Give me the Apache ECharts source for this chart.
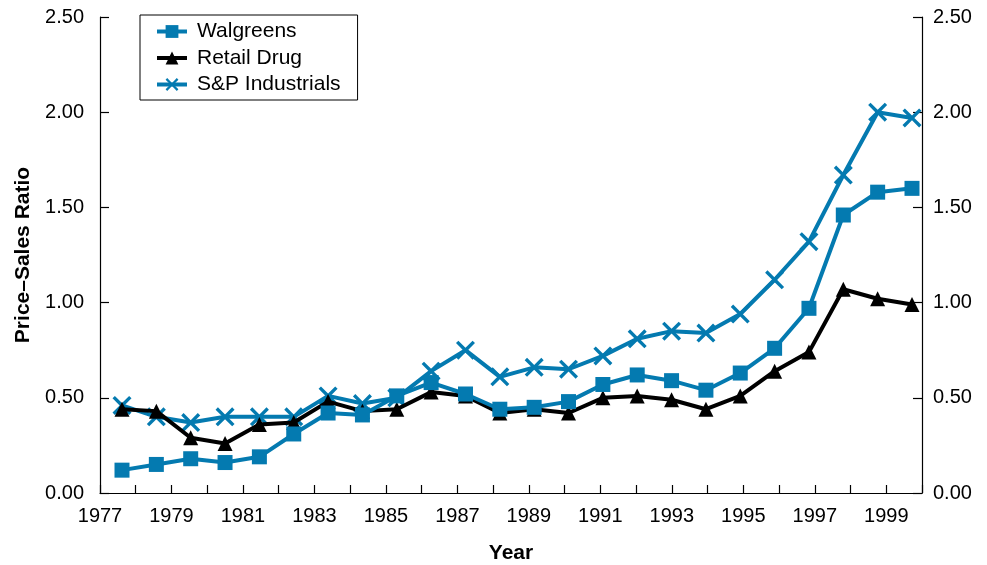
<!DOCTYPE html>
<html>
<head>
<meta charset="utf-8">
<script src="https://cdn.jsdelivr.net/npm/echarts@6/dist/echarts.min.js"></script>
<style>
  html, body { margin: 0; padding: 0; background: #fff; }
  #chart { width: 987px; height: 565px; }
</style>
</head>
<body>
<div id="chart"></div>
<script>
// ---- Data ----
const years = ['1977','1978','1979','1980','1981','1982','1983','1984','1985','1986','1987','1988',
               '1989','1990','1991','1992','1993','1994','1995','1996','1997','1998','1999','2000'];
const walgreens  = [0.12,0.15,0.18,0.16,0.19,0.31,0.42,0.41,0.51,0.58,0.52,0.44,
                    0.45,0.48,0.57,0.62,0.59,0.54,0.63,0.76,0.97,1.46,1.58,1.60];
const retailDrug = [0.44,0.43,0.29,0.26,0.36,0.37,0.48,0.43,0.44,0.53,0.51,0.42,
                    0.44,0.42,0.50,0.51,0.49,0.44,0.51,0.64,0.74,1.07,1.02,0.99];
const spInd      = [0.46,0.40,0.37,0.40,0.40,0.40,0.51,0.47,0.50,0.64,0.75,0.61,
                    0.66,0.65,0.72,0.81,0.85,0.84,0.94,1.12,1.32,1.67,2.00,1.97];
const seriesNames = ['Walgreens', 'Retail Drug', 'S&P Industrials'];
const yTicks = { min: 0, max: 2.5, interval: 0.5 };
const yearAxis = { min: 1977, max: 2000, interval: 1 };

const FONT = "'Liberation Sans', Arial, Helvetica, sans-serif";
const BLUE = '#047AB0';
const BLACK = '#000000';
const XPATH = 'path://M0,2.5 L2.5,0 L10,7.5 L17.5,0 L20,2.5 L12.5,10 L20,17.5 L17.5,20 L10,12.5 L2.5,20 L0,17.5 L7.5,10 Z';

const chart = echarts.init(document.getElementById('chart'), null, { renderer: 'canvas' });

const axisLine = { show: true, lineStyle: { color: '#000', width: 1.2 } };
const labelStyle = { color: '#000', fontFamily: FONT, fontSize: 20 };

const option = {
  backgroundColor: '#fff',
  animation: false,
  textStyle: { fontFamily: FONT },
  grid: [
    { left: 100, right: 65, top: 17, bottom: 72, containLabel: false, outerBoundsMode: 'none' },
    { left: 122, right: 75, top: 17, bottom: 72, containLabel: false, outerBoundsMode: 'none' }
  ],
  legend: {
    orient: 'vertical',
    left: 140, top: 15,
    padding: [6, 17, 5, 15],
    borderColor: '#000', borderWidth: 1,
    itemWidth: 30, itemHeight: 16, itemGap: 5.5,
    lineStyle: { width: 4 },
    textStyle: { color: '#000', fontFamily: FONT, fontSize: 21, lineHeight: 20, padding: [0, 0, 0, 5] },
    data: seriesNames
  },
  xAxis: [
    {
      type: 'value', gridIndex: 0,
      min: yearAxis.min, max: yearAxis.max, interval: yearAxis.interval,
      name: 'Year', nameLocation: 'middle', nameGap: 50,
      nameTextStyle: { color: '#000', fontFamily: FONT, fontSize: 21, fontWeight: 'bold' },
      axisLine: axisLine,
      axisTick: { show: true, inside: true, length: 8, lineStyle: { color: '#000', width: 1.2 } },
      axisLabel: Object.assign({ margin: 13, showMinLabel: true, showMaxLabel: true,
        formatter: v => (v % 2 === 1 ? String(v) : '') }, labelStyle),
      splitLine: { show: false }
    },
    {
      type: 'category', gridIndex: 1, data: years, boundaryGap: false, show: false
    }
  ],
  yAxis: [
    {
      type: 'value', gridIndex: 0, position: 'left',
      min: yTicks.min, max: yTicks.max, interval: yTicks.interval,
      name: 'Price\u2013Sales Ratio', nameLocation: 'middle', nameGap: 66, nameRotate: 90,
      nameTextStyle: { color: '#000', fontFamily: FONT, fontSize: 21, fontWeight: 'bold' },
      axisLine: axisLine,
      axisTick: { show: true, inside: true, length: 9, lineStyle: { color: '#000', width: 1.2 } },
      axisLabel: Object.assign({ margin: 16, formatter: v => v.toFixed(2) }, labelStyle),
      splitLine: { show: false }
    },
    {
      type: 'value', gridIndex: 0, position: 'right',
      min: yTicks.min, max: yTicks.max, interval: yTicks.interval,
      axisLine: axisLine,
      axisTick: { show: true, inside: true, length: 9, lineStyle: { color: '#000', width: 1.2 } },
      axisLabel: Object.assign({ margin: 11, formatter: v => v.toFixed(2) }, labelStyle),
      splitLine: { show: false }
    },
    {
      type: 'value', gridIndex: 1, min: yTicks.min, max: yTicks.max, show: false
    }
  ],
  series: [
    {
      name: seriesNames[0], type: 'line', xAxisIndex: 1, yAxisIndex: 2,
      data: walgreens, symbol: 'rect', symbolSize: 15,
      lineStyle: { color: BLUE, width: 4 }, itemStyle: { color: BLUE }, z: 3
    },
    {
      name: seriesNames[1], type: 'line', xAxisIndex: 1, yAxisIndex: 2,
      data: retailDrug, symbol: 'triangle', symbolSize: 15,
      lineStyle: { color: BLACK, width: 4 }, itemStyle: { color: BLACK }, z: 2
    },
    {
      name: seriesNames[2], type: 'line', xAxisIndex: 1, yAxisIndex: 2,
      data: spInd, symbol: XPATH, symbolSize: 19,
      lineStyle: { color: BLUE, width: 4 }, itemStyle: { color: BLUE }, z: 1
    }
  ]
};
chart.setOption(option);
</script>
</body>
</html>
